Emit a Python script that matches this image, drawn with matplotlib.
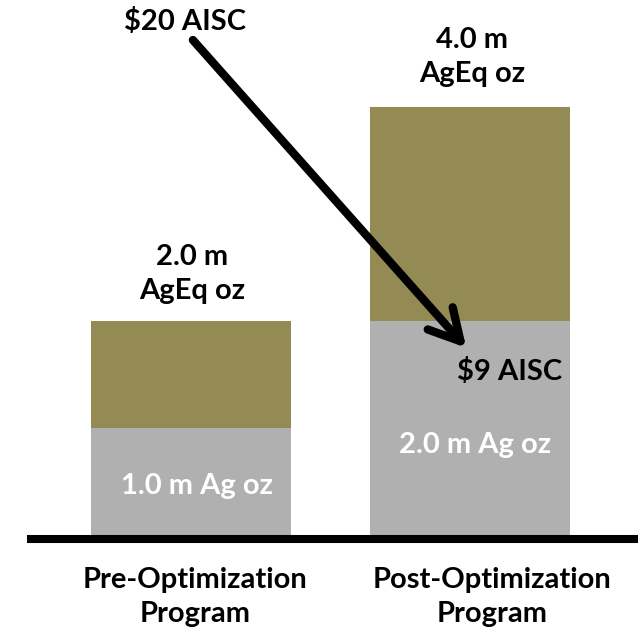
import matplotlib.pyplot as plt
from matplotlib.patches import FancyArrowPatch


programs = ['Pre-Optimization\nProgram', 'Post-Optimization\nProgram']
ag_oz = [1.0, 2.0]        # million Ag oz
ageq_oz = [2.0, 4.0]      # million AgEq oz (total)
aisc_before = 20
aisc_after = 9

GRAY = '#B0B0B0'
OLIVE = '#948A54'
FONT = 'Lato'
FS = 21

if __name__ == '__main__':
    plt.rcParams['font.family'] = [FONT, 'DejaVu Sans']
    plt.rcParams['font.weight'] = 'bold'

    fig = plt.figure(figsize=(6.41, 6.30), dpi=100)
    ax = fig.add_axes([0, 95 / 630, 1, 535 / 630])

    x = list(range(len(programs)))
    other = [t - a for t, a in zip(ageq_oz, ag_oz)]
    ax.bar(x, ag_oz, width=0.7156, color=GRAY, linewidth=0)
    ax.bar(x, other, bottom=ag_oz, width=0.7156, color=OLIVE, linewidth=0)

    ax.set_xlim(-0.683, 1.610)
    ax.set_ylim(0, 5.0)
    ax.axis('off')

    # thick baseline
    ax.plot([-0.587, 1.599], [-0.037, -0.037], color='black', lw=5.8,
            solid_capstyle='butt', clip_on=False)

    # totals above bars (va='baseline' sits on the last line)
    ax.text(0.004, ageq_oz[0] + 0.206, f'{ageq_oz[0]:.1f} m\nAgEq oz',
            ha='center', va='baseline', fontsize=FS, fontweight='bold',
            linespacing=1.4)
    ax.text(1.007, ageq_oz[1] + 0.234, f'{ageq_oz[1]:.1f} m\nAgEq oz',
            ha='center', va='baseline', fontsize=FS, fontweight='bold',
            linespacing=1.4)

    # Ag labels inside gray part
    ax.text(0.023, ag_oz[0] * 0.38, f'{ag_oz[0]:.1f} m Ag oz',
            ha='center', va='baseline', fontsize=FS, fontweight='bold',
            color='white')
    ax.text(1.016, ag_oz[1] * 0.385, f'{ag_oz[1]:.1f} m Ag oz',
            ha='center', va='baseline', fontsize=FS, fontweight='bold',
            color='white')

    # AISC labels and arrow
    ax.text(-0.021, 4.72, f'\\${aisc_before} AISC', ha='center', va='baseline',
            fontsize=FS, fontweight='bold')
    ax.text(1.141, 1.449, f'\\${aisc_after} AISC', ha='center', va='baseline',
            fontsize=FS, fontweight='bold')
    arrow = FancyArrowPatch((0.007, 4.626), (0.985, 1.75),
                            arrowstyle='->,head_length=22,head_width=12',
                            mutation_scale=1, lw=6, color='black',
                            shrinkA=0, shrinkB=0, capstyle='round',
                            joinstyle='round', clip_on=False)
    ax.add_patch(arrow)

    # category labels
    for xi, dx, name in zip(x, [0.015, 0.077], programs):
        ax.text(xi + dx, -0.813, name, ha='center', va='baseline',
                fontsize=FS, fontweight='bold', linespacing=1.4)

    fig.savefig('out.png', dpi=100)
